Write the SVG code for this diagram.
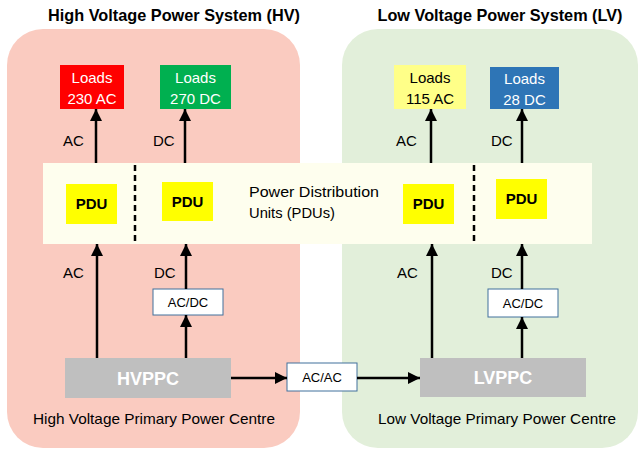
<svg xmlns="http://www.w3.org/2000/svg" width="640" height="452" viewBox="0 0 640 452">
<defs>
<marker id="ah" markerUnits="userSpaceOnUse" markerWidth="12" markerHeight="12" refX="12" refY="6" orient="auto">
<path d="M0,0 L12,6 L0,12 z" fill="#000"/>
</marker>
<style>
text{font-family:"Liberation Sans",Arial,sans-serif;}
.title{font-size:17px;font-weight:bold;fill:#000;}
.lbl{font-size:15px;fill:#000;}
.ld{font-size:15px;fill:#fff;text-anchor:middle;}
.pdu{fill:#FFFF00;}
.pdut{font-size:15px;font-weight:bold;fill:#000;text-anchor:middle;}
.conv{fill:#fff;stroke:#41719C;stroke-width:1;}
.convt{font-size:13px;fill:#000;text-anchor:middle;}
.ppct{font-size:18px;font-weight:bold;fill:#fff;text-anchor:middle;}
.ppc{fill:#BFBFBF;}
.cn{stroke:#000;stroke-width:2.5;fill:none;}
</style>
</defs>
<rect width="640" height="452" fill="#fff"/>
<g id="hv-region">
<rect x="7" y="29" width="293" height="419" rx="36" fill="#FACBC0"/>
<text class="title" x="174" y="21" text-anchor="middle" textLength="252" lengthAdjust="spacingAndGlyphs">High Voltage Power System (HV)</text>
<text class="lbl" x="154" y="424" text-anchor="middle" textLength="242" lengthAdjust="spacingAndGlyphs">High Voltage Primary Power Centre</text>
</g>
<g id="lv-region">
<rect x="342" y="29" width="296" height="419" rx="36" fill="#E2EFDA"/>
<text class="title" x="500" y="21" text-anchor="middle" textLength="245" lengthAdjust="spacingAndGlyphs">Low Voltage Power System (LV)</text>
<text class="lbl" x="497" y="424" text-anchor="middle" textLength="238" lengthAdjust="spacingAndGlyphs">Low Voltage Primary Power Centre</text>
</g>
<g id="pdu-band">
<rect x="43" y="163" width="549" height="81" fill="#FEFEEE"/>
<line x1="135" y1="165" x2="135" y2="242" stroke="#000" stroke-width="2.5" stroke-dasharray="6,4"/>
<line x1="474" y1="165" x2="474" y2="242" stroke="#000" stroke-width="2.5" stroke-dasharray="6,4"/>
<text class="lbl" x="249" y="197" font-size="16" textLength="130" lengthAdjust="spacingAndGlyphs">Power Distribution</text>
<text class="lbl" x="249" y="218" font-size="16" textLength="86" lengthAdjust="spacingAndGlyphs">Units (PDUs)</text>
</g>
<g id="pdu-hv-ac"><rect class="pdu" x="66" y="184" width="51" height="40"/><text class="pdut" x="91.5" y="209">PDU</text></g>
<g id="pdu-hv-dc"><rect class="pdu" x="162" y="182" width="51" height="39"/><text class="pdut" x="187.5" y="207">PDU</text></g>
<g id="pdu-lv-ac"><rect class="pdu" x="403" y="184" width="51" height="40"/><text class="pdut" x="428.5" y="209">PDU</text></g>
<g id="pdu-lv-dc"><rect class="pdu" x="496" y="179" width="51" height="40"/><text class="pdut" x="521.5" y="204">PDU</text></g>
<g id="loads-230ac"><rect x="60" y="65" width="64" height="44" fill="#FF0000"/><text class="ld" x="92" y="83">Loads</text><text class="ld" x="92" y="104">230 AC</text></g>
<g id="loads-270dc"><rect x="160" y="65" width="71" height="44" fill="#00B050"/><text class="ld" x="195.5" y="83">Loads</text><text class="ld" x="195.5" y="104">270 DC</text></g>
<g id="loads-115ac"><rect x="394" y="65" width="72" height="44" fill="#FFFF88"/><text class="ld" x="430" y="83" style="fill:#000">Loads</text><text class="ld" x="430" y="104" style="fill:#000">115 AC</text></g>
<g id="loads-28dc"><rect x="490" y="67" width="69" height="42" fill="#2E75B6"/><text class="ld" x="524.5" y="84">Loads</text><text class="ld" x="524.5" y="105">28 DC</text></g>
<g id="acdc-hv"><rect class="conv" x="153" y="289" width="70" height="26"/><text class="convt" x="188" y="307">AC/DC</text></g>
<g id="acdc-lv"><rect class="conv" x="488" y="289" width="70" height="28"/><text class="convt" x="523" y="308">AC/DC</text></g>
<g id="acac"><rect class="conv" x="287" y="363" width="70" height="28"/><text class="convt" x="322" y="382" font-size="14">AC/AC</text></g>
<g id="hvppc"><rect class="ppc" x="65" y="358" width="166" height="40"/><text class="ppct" x="148" y="385">HVPPC</text></g>
<g id="lvppc"><rect class="ppc" x="420" y="358" width="166" height="39"/><text class="ppct" x="503" y="384">LVPPC</text></g>
<g id="connectors">
<line class="cn" x1="96" y1="163" x2="96" y2="109" marker-end="url(#ah)"/>
<line class="cn" x1="185" y1="163" x2="185" y2="109" marker-end="url(#ah)"/>
<line class="cn" x1="431" y1="163" x2="431" y2="109" marker-end="url(#ah)"/>
<line class="cn" x1="522" y1="163" x2="522" y2="109" marker-end="url(#ah)"/>
<line class="cn" x1="97" y1="358" x2="97" y2="244" marker-end="url(#ah)"/>
<line class="cn" x1="186" y1="358" x2="186" y2="315" marker-end="url(#ah)"/>
<line class="cn" x1="186" y1="289" x2="186" y2="244" marker-end="url(#ah)"/>
<line class="cn" x1="432" y1="358" x2="432" y2="244" marker-end="url(#ah)"/>
<line class="cn" x1="522" y1="358" x2="522" y2="317" marker-end="url(#ah)"/>
<line class="cn" x1="522" y1="289" x2="522" y2="244" marker-end="url(#ah)"/>
<line class="cn" x1="231" y1="378" x2="287" y2="378" marker-end="url(#ah)"/>
<line class="cn" x1="357" y1="378" x2="420" y2="378" marker-end="url(#ah)"/>
<text class="lbl" x="63" y="146" font-size="16">AC</text>
<text class="lbl" x="153" y="146" font-size="16">DC</text>
<text class="lbl" x="396" y="146" font-size="16">AC</text>
<text class="lbl" x="491" y="146" font-size="16">DC</text>
<text class="lbl" x="63" y="278" font-size="16">AC</text>
<text class="lbl" x="154" y="278" font-size="16">DC</text>
<text class="lbl" x="397" y="278" font-size="16">AC</text>
<text class="lbl" x="491" y="278" font-size="16">DC</text>
</g>
</svg>
